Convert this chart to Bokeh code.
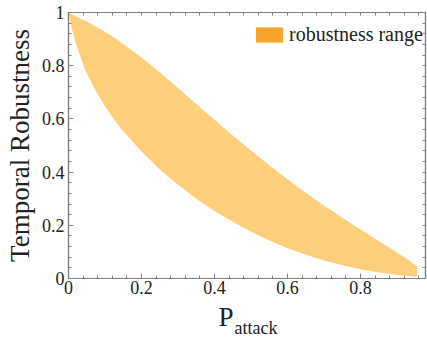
from bokeh.plotting import figure
from bokeh.layouts import column
from bokeh.models import Range1d, LinearAxis, Legend, LegendItem, Label, FixedTicker
from bokeh.embed import file_html
from bokeh.resources import INLINE

# ---- data ----
p_attack = [0.0, 0.005, 0.01, 0.02, 0.03, 0.04, 0.05, 0.075, 0.1, 0.125, 0.15, 0.2, 0.25,
            0.3, 0.35, 0.4, 0.45, 0.5, 0.55, 0.6, 0.65, 0.7, 0.75, 0.8, 0.85, 0.9, 0.93, 0.955]
robust_upper = [1.0, 0.9965, 0.993, 0.986, 0.979, 0.973, 0.966, 0.947, 0.928, 0.906, 0.882,
                0.831, 0.775, 0.716, 0.656, 0.597, 0.538, 0.481, 0.426, 0.373, 0.322, 0.274,
                0.228, 0.184, 0.141, 0.098, 0.071, 0.045]
robust_lower = [1.0, 0.965, 0.935, 0.885, 0.843, 0.806, 0.772, 0.705, 0.648, 0.598, 0.554,
                0.477, 0.41, 0.352, 0.3, 0.254, 0.213, 0.176, 0.143, 0.114, 0.089, 0.068,
                0.05, 0.035, 0.023, 0.014, 0.009, 0.006]

major_ticks = [0.0, 0.2, 0.4, 0.6, 0.8, 1.0]
tick_labels = ["0", "0.2", "0.4", "0.6", "0.8", "1"]
legend_label = "robustness range"
y_title = "Temporal Robustness"
x_title_main = "P"
x_title_sub = "attack"

FONT = "Liberation Serif"
TXT = "#222222"
AXC = "#808080"

p = figure(width=427, height=300, output_backend="svg", toolbar_location=None,
           x_range=Range1d(0, 0.978), y_range=Range1d(0, 1),
           min_border_left=68, min_border_right=2, min_border_top=12, min_border_bottom=22)
p.xgrid.visible = False
p.ygrid.visible = False
p.outline_line_color = AXC
p.outline_line_width = 1.2
p.background_fill_color = "white"
p.border_fill_color = "white"

band = p.varea(x=p_attack, y1=robust_lower, y2=robust_upper, fill_color="#FDCF7C")

minor = [i * 0.04 for i in range(0, 26)]
ticker = FixedTicker(ticks=major_ticks, minor_ticks=minor)
plain_ticker = FixedTicker(ticks=[], minor_ticks=minor)
overrides = {t: l for t, l in zip(major_ticks, tick_labels)}

def style_axis(ax, labels=True):
    ax.axis_line_color = AXC
    ax.axis_line_width = 1.2
    ax.major_tick_line_color = AXC
    ax.minor_tick_line_color = AXC
    ax.major_tick_in = 5
    ax.major_tick_out = 0
    ax.minor_tick_in = 3
    ax.minor_tick_out = 0
    if labels:
        ax.ticker = ticker
        ax.major_label_overrides = overrides
        ax.major_label_text_font = FONT
        ax.major_label_text_font_size = "18px"
        ax.major_label_text_color = TXT
    else:
        ax.ticker = plain_ticker
        ax.major_label_standoff = 0

for ax in p.xaxis:
    style_axis(ax)
    ax.major_label_standoff = 2
for ax in p.yaxis:
    style_axis(ax)
    ax.major_label_standoff = 4
    ax.axis_label = y_title
    ax.axis_label_text_font = FONT
    ax.axis_label_text_font_size = "27px"
    ax.axis_label_text_font_style = "normal"
    ax.axis_label_text_color = TXT
    ax.axis_label_standoff = 4

top_ax = LinearAxis()
style_axis(top_ax, labels=False)
p.add_layout(top_ax, "above")
right_ax = LinearAxis()
style_axis(right_ax, labels=False)
p.add_layout(right_ax, "right")

# legend (swatch renderer has zero area, built from the data's first point)
swatch = p.quad(left=[p_attack[0]], right=[p_attack[0]], top=[robust_upper[0]],
                bottom=[robust_upper[0]], fill_color="#F7A52B", line_color=None)
legend = Legend(items=[LegendItem(label=legend_label, renderers=[swatch])],
                location=(184, 232), padding=0, margin=0, spacing=0,
                glyph_width=34, glyph_height=19, label_standoff=3,
                label_text_font=FONT, label_text_font_size="20px", label_text_color=TXT,
                border_line_color=None, background_fill_alpha=0)
p.add_layout(legend, "center")

# x axis title with subscript, drawn in a strip under the chart
# (the strip's frame is aligned with the main frame, which starts at x = 68)
p2 = figure(width=427, height=39, output_backend="svg", toolbar_location=None,
            x_axis_type=None, y_axis_type=None, min_border=0,
            x_range=Range1d(0, 1), y_range=Range1d(0, 1))
p2.outline_line_color = None
p2.xgrid.visible = False
p2.ygrid.visible = False
p2.add_layout(Label(x=150, y=23, x_units="screen", y_units="screen", text=x_title_main,
                    text_font=FONT, text_font_size="27px", text_color=TXT,
                    text_baseline="alphabetic"))
p2.add_layout(Label(x=166, y=12, x_units="screen", y_units="screen", text=x_title_sub,
                    text_font=FONT, text_font_size="18px", text_color=TXT,
                    text_baseline="alphabetic"))

layout = column(p, p2, spacing=0)
open("out.html", "w").write(file_html(layout, INLINE))
